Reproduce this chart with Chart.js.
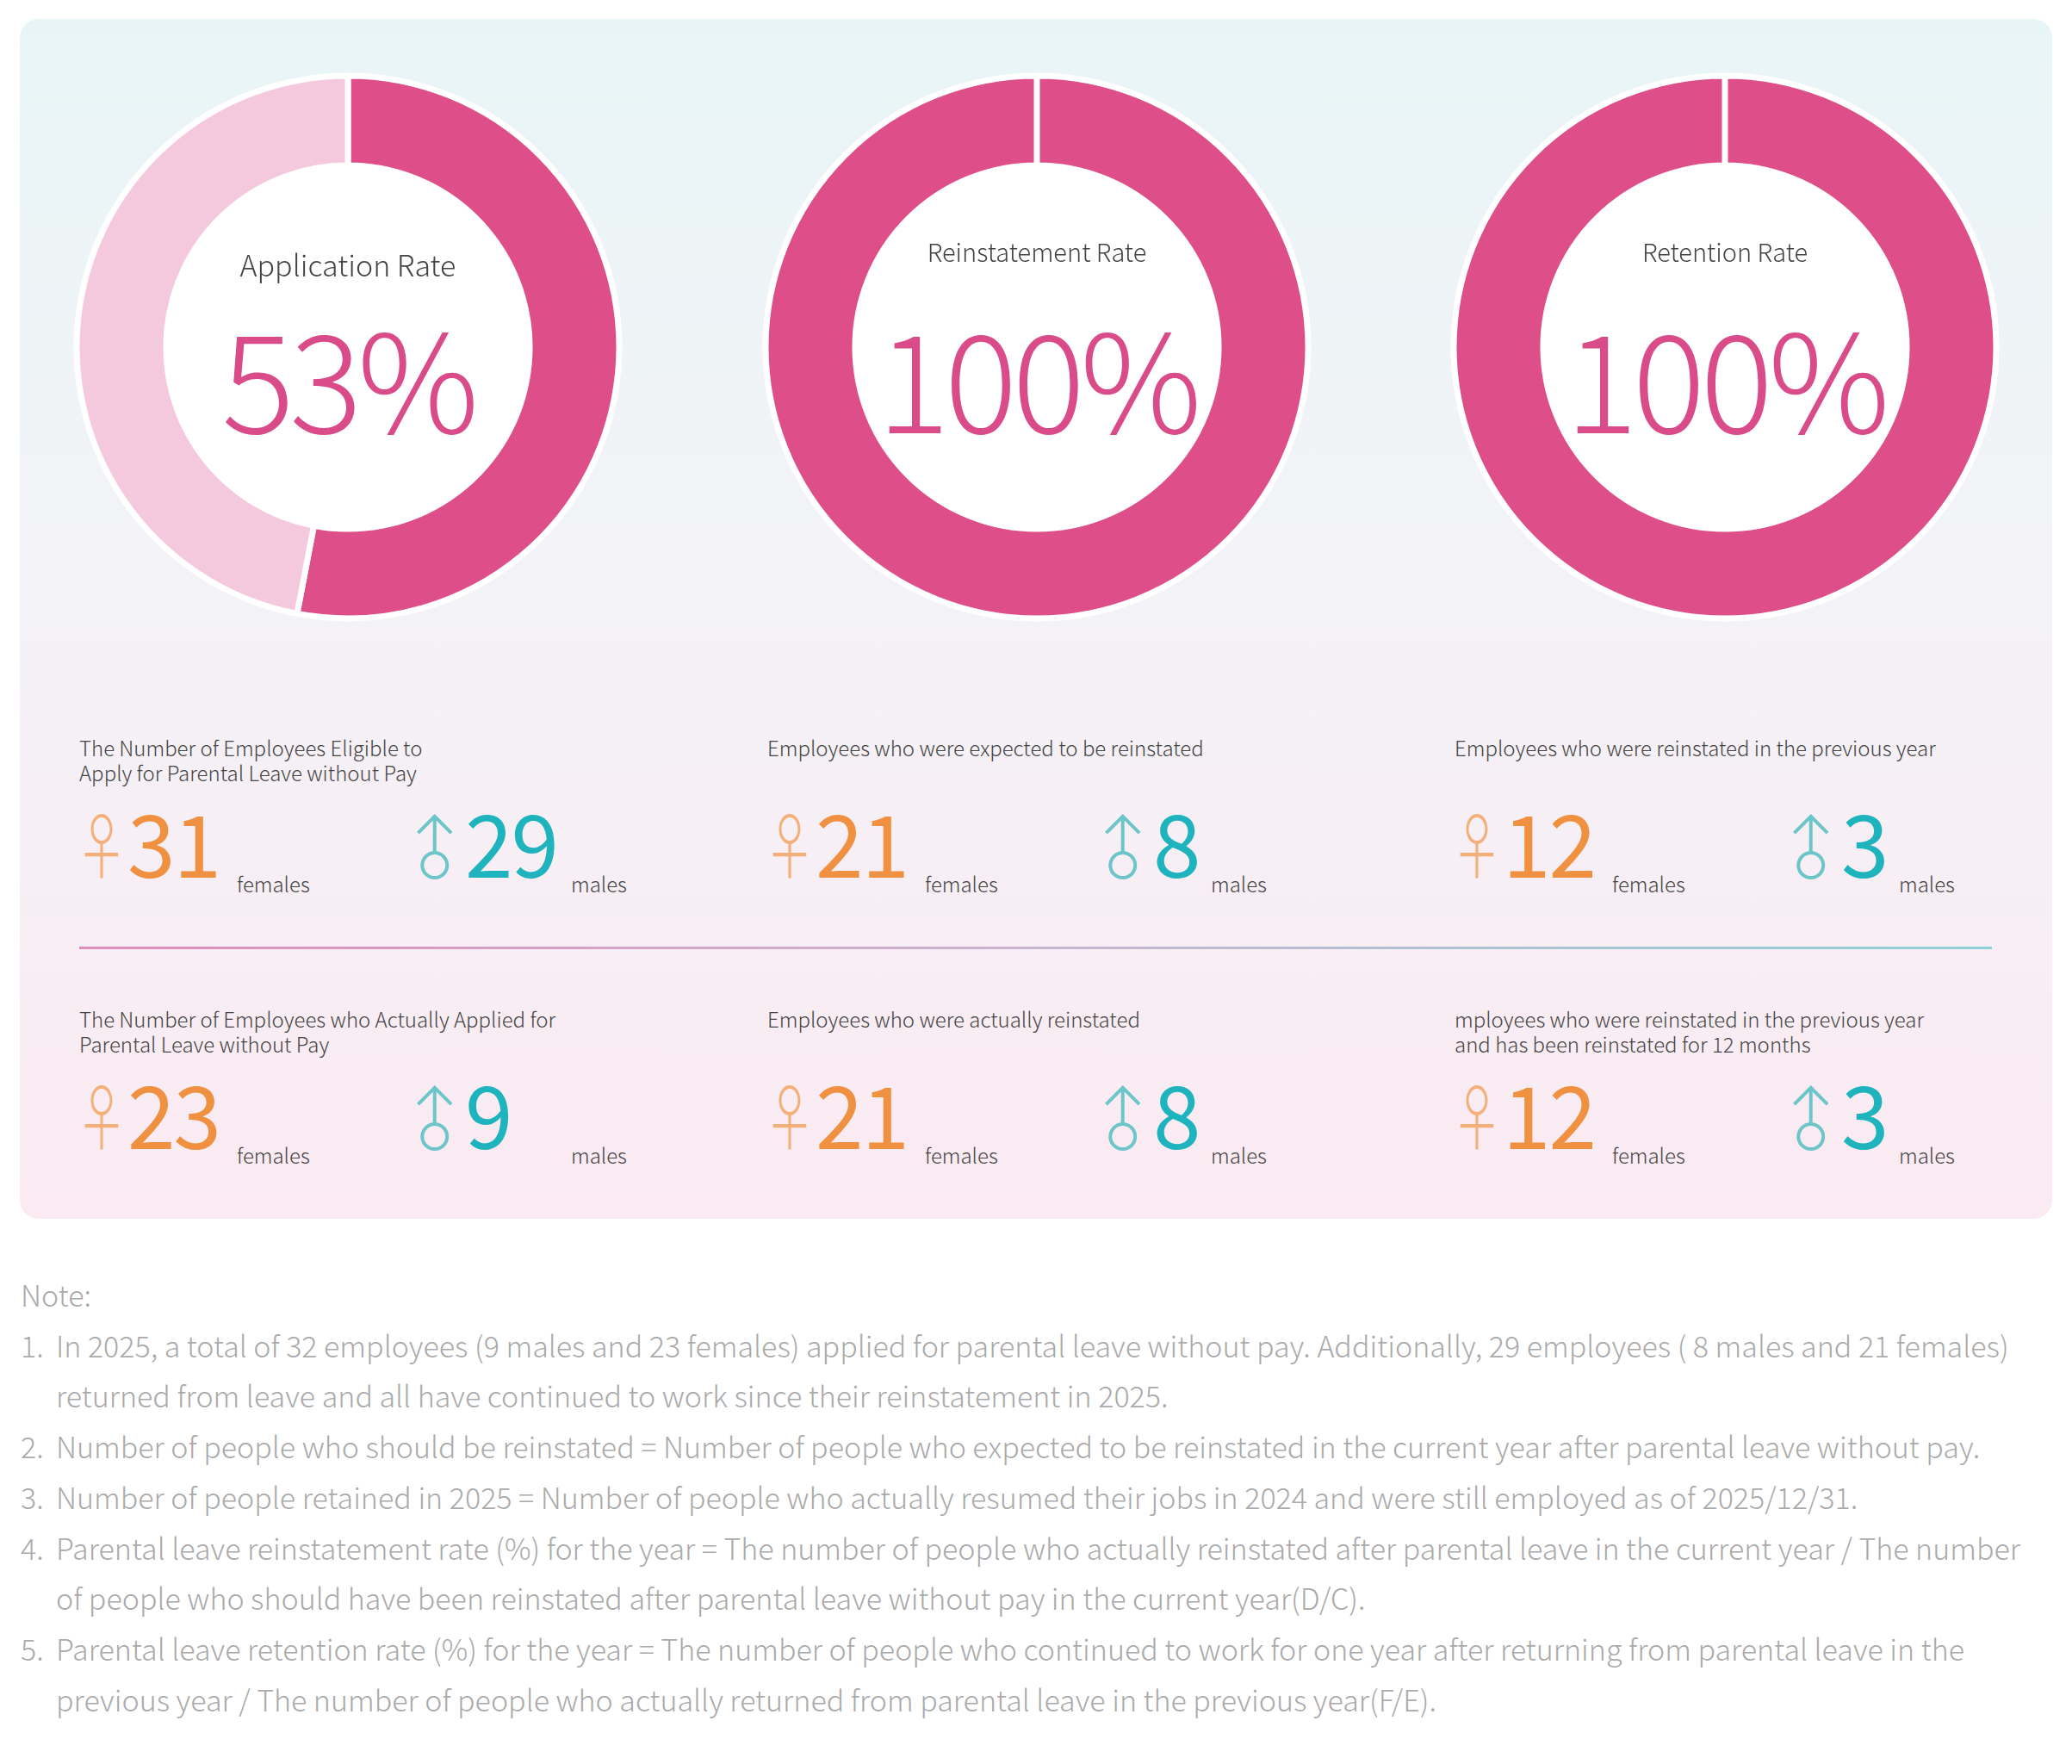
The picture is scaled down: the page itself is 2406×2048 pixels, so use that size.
<!DOCTYPE html>
<html><head><meta charset="utf-8">
<script src="https://cdn.jsdelivr.net/npm/chart.js@4.4.1/dist/chart.umd.min.js"></script>
<style>
body{margin:0;width:2406px;height:2048px;background:#fff;font-family:"Noto Sans CJK TC","Noto Sans",sans-serif;position:relative;overflow:hidden}
.panel{position:absolute;left:23px;top:22px;width:2360px;height:1393px;border-radius:22px;background:linear-gradient(#e8f5f6,#f3f3f7 45%,#fbeaf2)}
.abs{position:absolute}
.hole{position:absolute;width:424px;height:424px;border-radius:50%;background:#fff}
.cv{position:absolute;width:640px;height:640px}
.clab{position:absolute;width:400px;text-align:center;color:#444;font-weight:300}
.cval{position:absolute;width:420px;text-align:center;color:#d94c89;font-weight:300;font-size:158px;line-height:1;letter-spacing:-6px}
.lab{position:absolute;color:#444;font-size:24px;line-height:29px;font-weight:300}
.sym{position:absolute;font-size:84px;line-height:1;font-weight:300}
.num{position:absolute;font-size:100px;line-height:1;font-weight:400;letter-spacing:-2px}
.unit{position:absolute;color:#444;font-size:24px;font-weight:300}
.f{color:#f4b07a}.fn{color:#ef9140}.m{color:#6cc5c9}.mn{color:#1fb3be}
.note{position:absolute;left:24px;color:#aaa;font-size:34px;font-weight:300;line-height:58.7px;white-space:nowrap}
.note div{position:relative;padding-left:41px}
.note span{position:absolute;left:0}
</style></head><body>
<div class="panel"></div>
<div id="root"></div>
<script>
const rateTitles=["Application Rate","Reinstatement Rate","Retention Rate"];
const rateValues=[53,100,100];
const statLabels=[
 ["The Number of Employees Eligible to<br>Apply for Parental Leave without Pay","Employees who were expected to be reinstated","Employees who were reinstated in the previous year"],
 ["The Number of Employees who Actually Applied for<br>Parental Leave without Pay","Employees who were actually reinstated","mployees who were reinstated in the previous year<br>and has been reinstated for 12 months"]];
const females=[[31,21,12],[23,21,12]];
const males=[[29,8,3],[9,8,3]];
const notes=[
 "In 2025, a total of 32 employees (9 males and 23 females) applied for parental leave without pay. Additionally, 29 employees ( 8 males and 21 females)<br>returned from leave and all have continued to work since their reinstatement in 2025.",
 "Number of people who should be reinstated = Number of people who expected to be reinstated in the current year after parental leave without pay.",
 "Number of people retained in 2025 = Number of people who actually resumed their jobs in 2024 and were still employed as of 2025/12/31.",
 "Parental leave reinstatement rate (%) for the year = The number of people who actually reinstated after parental leave in the current year / The number<br>of people who should have been reinstated after parental leave without pay in the current year(D/C).",
 "Parental leave retention rate (%) for the year = The number of people who continued to work for one year after returning from parental leave in the<br>previous year / The number of people who actually returned from parental leave in the previous year(F/E)."];

const root=document.getElementById('root');
let h='';
const cx=[404,1204,2003], cy=403;
const titleY=[282,270,270], titleF=[34,29,29];
rateTitles.forEach((t,i)=>{
 h+=`<div class="hole" style="left:${cx[i]-212}px;top:${cy-212}px"></div>`;
 h+=`<canvas id="c${i}" class="cv" style="left:${cx[i]-320}px;top:${cy-320}px"></canvas>`;
 h+=`<div class="clab" style="left:${cx[i]-200}px;top:${titleY[i]}px;font-size:${titleF[i]}px">${t}</div>`;
 h+=`<div class="cval" style="left:${cx[i]-210}px;top:${356}px">${rateValues[i]}%</div>`;
});
const colX=[92,891,1689], maleX=[486,1285,2084], maleUnit=[177,121,121];
const labY=[853,1168], numY=[926,1241];
for(let r=0;r<2;r++)for(let c=0;c<3;c++){
 h+=`<div class="lab" style="left:${colX[c]}px;top:${labY[r]}px">${statLabels[r][c]}</div>`;
 h+=`<div class="sym f" style="left:${colX[c]-16}px;top:${numY[r]+10}px;transform:scaleX(0.72)">♀</div>`;
 h+=`<div class="num fn" style="left:${colX[c]+56}px;top:${numY[r]}px">${females[r][c]}</div>`;
 h+=`<div class="unit" style="left:${colX[c]+183}px;top:${numY[r]+82}px">females</div>`;
 h+=`<div class="sym m" style="left:${maleX[c]-26}px;top:${numY[r]+14}px;transform:rotate(-45deg) scale(0.95)">♂</div>`;
 h+=`<div class="num mn" style="left:${maleX[c]+54}px;top:${numY[r]}px">${males[r][c]}</div>`;
 h+=`<div class="unit" style="left:${maleX[c]+maleUnit[c]}px;top:${numY[r]+82}px">males</div>`;
}
h+=`<div class="abs" style="left:92px;top:1099px;width:2221px;height:3px;background:linear-gradient(90deg,#de8cbc,#c8b5d0 50%,#8fd0d6)"></div>`;
h+=`<div class="note" style="top:1474px"><div style="padding-left:0">Note:</div>`;
notes.forEach((n,i)=>{h+=`<div><span>${i+1}.</span>${n}</div>`;});
h+=`</div>`;
root.innerHTML=h;

rateValues.forEach((v,i)=>{
 new Chart(document.getElementById('c'+i),{type:'doughnut',
  data:{datasets:[{data:[v,100-v],backgroundColor:['#de4f8a','#f5c9dd'],borderColor:'#ffffff',borderWidth:7}]},
  options:{responsive:false,animation:false,cutout:'67%',radius:315,plugins:{legend:{display:false},tooltip:{enabled:false}},layout:{padding:0}}});
});
</script></body></html>
